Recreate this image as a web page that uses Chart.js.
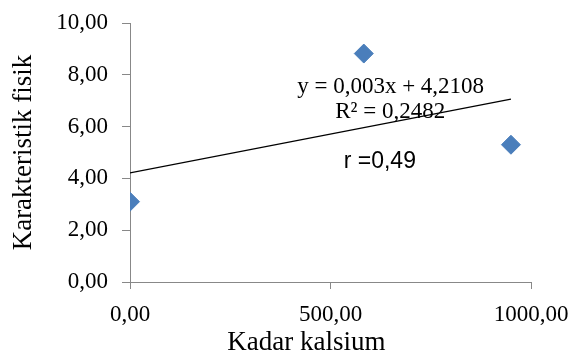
<!DOCTYPE html>
<html><head><meta charset="utf-8">
<script src="https://cdn.jsdelivr.net/npm/chart.js@4.4.1/dist/chart.umd.min.js"></script>
<style>html,body{margin:0;padding:0;background:#fff}#wrap{width:573px;height:352px}</style>
</head><body><div id="wrap"><canvas id="c"></canvas></div>
<script>
const kadarKalsium = [0, 583, 950];
const karakteristikFisik = [3.1, 8.82, 5.3];
const slope = 0.003;
const intercept = 4.2108;
const equationText = "y = 0,003x + 4,2108";
const r2Text = "R\u00B2 = 0,2482";
const rText = "r =0,49";
const xTitle = "Kadar kalsium";
const yTitle = "Karakteristik fisik";

const pts = kadarKalsium.map((x,i)=>({x, y: karakteristikFisik[i]}));
const xMaxData = Math.max(...kadarKalsium);
const trend = [{x:0, y:intercept}, {x:xMaxData, y:intercept + slope*xMaxData}];

const fmt = v => v.toFixed(2).replace('.', ',');

const annot = {
  id:'annot',
  afterDatasetsDraw(chart){
    const {ctx, scales:{x,y}, chartArea:ca} = chart;
    ctx.save();
    ctx.fillStyle = '#000';
    ctx.textAlign = 'center';
    ctx.textBaseline = 'middle';
    ctx.font = '23px "Liberation Serif"';
    ctx.fillText(equationText, x.getPixelForValue(650), y.getPixelForValue(7.55));
    ctx.fillText(r2Text, x.getPixelForValue(649), y.getPixelForValue(6.58));
    ctx.font = '23px "Liberation Sans"';
    ctx.fillText(rText, x.getPixelForValue(623), y.getPixelForValue(4.66));
    ctx.font = '27px "Liberation Serif"';
    ctx.fillText(xTitle, x.getPixelForValue(440), ca.bottom + 61);
    ctx.restore();
  }
};

new Chart(document.getElementById('c'), {
  type: 'scatter',
  data: { datasets: [
    { data: pts, pointStyle:'rectRot', pointRadius:9.5, pointHoverRadius:9.5,
      backgroundColor:'#4A7EBB', borderColor:'#4A7EBB', borderWidth:1, order:1 },
    { type:'line', data: trend, borderColor:'#000', borderWidth:1.3, pointRadius:0,
      fill:false, order:2 }
  ]},
  options: {
    responsive:true, maintainAspectRatio:false, animation:false,
    plugins:{legend:{display:false}, tooltip:{enabled:false}},
    layout:{padding:{top:23, right:42, left:0, bottom:0}},
    scales:{
      x:{ type:'linear', min:0, max:1000,
        ticks:{stepSize:500, callback:v=>fmt(v), color:'#000', padding:12,
          font:{family:'"Liberation Serif"', size:23}, maxRotation:0},
        grid:{drawOnChartArea:false, drawTicks:true, tickLength:7, color:'#888'},
        border:{color:'#888', width:1},
        title:{display:false},
        afterFit(s){ s.height = 70; s.paddingLeft = 0; s.paddingRight = 0; }
      },
      y:{ min:0, max:10,
        ticks:{stepSize:2, callback:v=>fmt(v), color:'#000', padding:14,
          font:{family:'"Liberation Serif"', size:23}},
        grid:{drawOnChartArea:false, drawTicks:true, tickLength:8, color:'#888'},
        border:{color:'#888', width:1},
        title:{display:true, text:yTitle, color:'#000', padding:{top:8,bottom:0},
          font:{family:'"Liberation Serif"', size:27}},
        afterFit(s){ s.width = 130; s.paddingTop = 0; s.paddingBottom = 0; }
      }
    }
  },
  plugins:[annot]
});
</script></body></html>
